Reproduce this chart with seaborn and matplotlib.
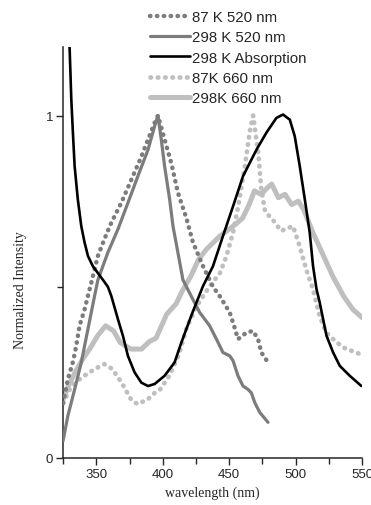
import matplotlib
matplotlib.use("Agg")
import matplotlib.pyplot as plt
import seaborn as sns
import numpy as np
import pandas as pd

# 87 K 520 nm (dotted, dark gray)
nm_87k_520 = [325, 328.6, 332.4, 334.9, 337.4, 341.2, 343.7, 347.4, 351.2, 356.2, 361.3, 368.8,
              376.4, 383.9, 388.9, 393.9, 396.4, 401.4, 406.5, 411.4, 417.8, 422.7, 430.3, 437.8,
              442.8, 450.4, 454.1, 456.6, 463.0, 467.9, 471.7, 474.2, 479.2]
int_87k_520 = [0.16, 0.23, 0.28, 0.327, 0.386, 0.434, 0.473, 0.53, 0.59, 0.64, 0.687, 0.745,
               0.813, 0.88, 0.93, 0.979, 1.0, 0.93, 0.86, 0.775, 0.70, 0.63, 0.56, 0.50,
               0.473, 0.425, 0.38, 0.347, 0.366, 0.371, 0.347, 0.308, 0.279]

# 298 K 520 nm (solid, dark gray)
nm_298k_520 = [325, 328.6, 333.7, 338.7, 343.7, 348.7, 351.2, 358.7, 366.3, 373.8, 381.3, 388.9,
               393.9, 396.4, 398.9, 401.4, 405.2, 407.7, 411.4, 415.2, 422.7, 427.8, 435.3, 440.4,
               445.3, 450.4, 452.9, 456.6, 460.4, 464.2, 466.7, 469.2, 473.0, 479.2]
int_298k_520 = [0.05, 0.123, 0.20, 0.279, 0.376, 0.473, 0.52, 0.60, 0.668, 0.745, 0.823, 0.90,
                0.969, 1.0, 0.93, 0.852, 0.755, 0.677, 0.60, 0.52, 0.463, 0.425, 0.386, 0.347,
                0.308, 0.298, 0.284, 0.24, 0.21, 0.20, 0.19, 0.162, 0.133, 0.104]

# 298 K absorption (solid, black)
nm_abs = [328.0, 329.9, 331.2, 332.4, 333.7, 336.1, 338.7, 341.2, 343.7, 347.4, 351.2, 355.0,
          358.7, 361.3, 366.3, 370.0, 373.8, 378.8, 383.9, 388.9, 393.9, 401.4, 408.9, 414.0,
          422.4, 430.3, 437.8, 445.3, 452.9, 460.4, 470.5, 478.0, 485.5, 490.5, 495.6, 499.3,
          503.1, 506.9, 510.6, 513.1, 515.7, 518.1, 523.2, 528.2, 533.2, 540.7, 549.5]
int_abs = [1.30, 1.20, 1.047, 0.95, 0.852, 0.755, 0.677, 0.629, 0.59, 0.56, 0.54, 0.52,
           0.50, 0.473, 0.405, 0.357, 0.298, 0.25, 0.22, 0.21, 0.216, 0.24, 0.279, 0.337,
           0.425, 0.502, 0.56, 0.648, 0.735, 0.823, 0.90, 0.95, 0.993, 1.003, 0.988, 0.94,
           0.852, 0.755, 0.658, 0.56, 0.493, 0.454, 0.357, 0.308, 0.269, 0.24, 0.21]

# 87K 660 nm (dotted, light gray)
nm_87k_660 = [325, 330, 334, 341, 349, 356, 362, 369, 376, 381, 389, 394, 398, 405, 412, 418,
              425, 435, 443, 448, 453, 457, 462, 465.5, 468, 472, 474, 477, 484, 489, 498, 503,
              508, 513, 518, 523, 531, 538, 546, 550]
int_87k_660 = [0.16, 0.20, 0.22, 0.24, 0.26, 0.274, 0.26, 0.22, 0.172, 0.157, 0.172, 0.19, 0.20,
               0.24, 0.30, 0.38, 0.44, 0.50, 0.54, 0.59, 0.66, 0.74, 0.857, 0.954, 1.0, 0.886,
               0.79, 0.72, 0.69, 0.663, 0.677, 0.619, 0.55, 0.493, 0.415, 0.366, 0.337, 0.318,
               0.308, 0.298]

# 298K 660 nm (solid, light gray)
nm_298k_660 = [325, 329, 334, 340, 345, 351, 357, 363, 368, 376, 384, 390, 395, 403, 410, 415,
               421, 427, 433, 443, 453, 460, 465, 469, 474, 479, 482, 487, 492, 497, 502, 506,
               513, 521, 528, 536, 543, 550]
int_298k_660 = [0.17, 0.21, 0.25, 0.29, 0.318, 0.357, 0.386, 0.371, 0.337, 0.318, 0.318, 0.34,
                0.35, 0.42, 0.45, 0.49, 0.53, 0.58, 0.61, 0.648, 0.677, 0.70, 0.74, 0.78, 0.77,
                0.79, 0.80, 0.76, 0.77, 0.74, 0.75, 0.726, 0.658, 0.59, 0.53, 0.473, 0.434, 0.41]

x_ticks = [350, 400, 450, 500, 550]
y_ticks = [0, 1]

sns.set_style("ticks")
plt.rcParams['font.family'] = ['Liberation Sans', 'DejaVu Sans']

dark = '#7c7c7c'
light = '#bfbfbf'
dots = (0, (0.1, 1.45))

fig = plt.figure(figsize=(3.71, 5.06), dpi=100)
ax = fig.add_axes([0.170, 0.093, 0.806, 0.812])

sns.lineplot(x=nm_87k_520, y=int_87k_520, ax=ax, color=dark, lw=3.2, linestyle=dots,
             dash_capstyle='round', label='87 K 520 nm', zorder=3)
sns.lineplot(x=nm_298k_520, y=int_298k_520, ax=ax, color=dark, lw=2.3,
             label='298 K 520 nm', zorder=3)
sns.lineplot(x=nm_abs, y=int_abs, ax=ax, color='black', lw=1.9,
             label='298 K Absorption', zorder=4)
sns.lineplot(x=nm_87k_660, y=int_87k_660, ax=ax, color=light, lw=3.4, linestyle=dots,
             dash_capstyle='round', label='87K 660 nm', zorder=2)
sns.lineplot(x=nm_298k_660, y=int_298k_660, ax=ax, color=light, lw=3.6,
             label='298K 660 nm', zorder=2)

ax.set_xlim(325, 550)
ax.set_ylim(0, 1.2)
ax.set_xticks(x_ticks)
ax.set_xticks([325, 375, 425, 475, 525], minor=True)
ax.set_yticks(y_ticks)
ax.set_yticklabels([str(v) for v in y_ticks])
ax.set_yticks([0.5], minor=True)
ax.tick_params(axis='both', which='major', length=5, width=1.0, labelsize=9.5, pad=2)
ax.tick_params(axis='both', which='minor', length=4, width=1.0)
sns.despine(ax=ax)
for s in ['left', 'bottom']:
    ax.spines[s].set_linewidth(1.1)

ax.set_xlabel('wavelength (nm)', family='Liberation Serif', fontsize=10)
ax.set_ylabel('Normalized Intensity', family='Liberation Serif', fontsize=10)
ax.yaxis.set_label_coords(-0.12, 0.41)

handles, labels = ax.get_legend_handles_labels()
ax.get_legend().remove()
fig.legend(handles, labels, loc='upper left', bbox_to_anchor=(0.403, 0.978),
           frameon=False, fontsize=10.8, handlelength=2.7, handletextpad=0.1,
           labelspacing=0.42, borderpad=0, borderaxespad=0)

fig.savefig('out.png', dpi=100)
